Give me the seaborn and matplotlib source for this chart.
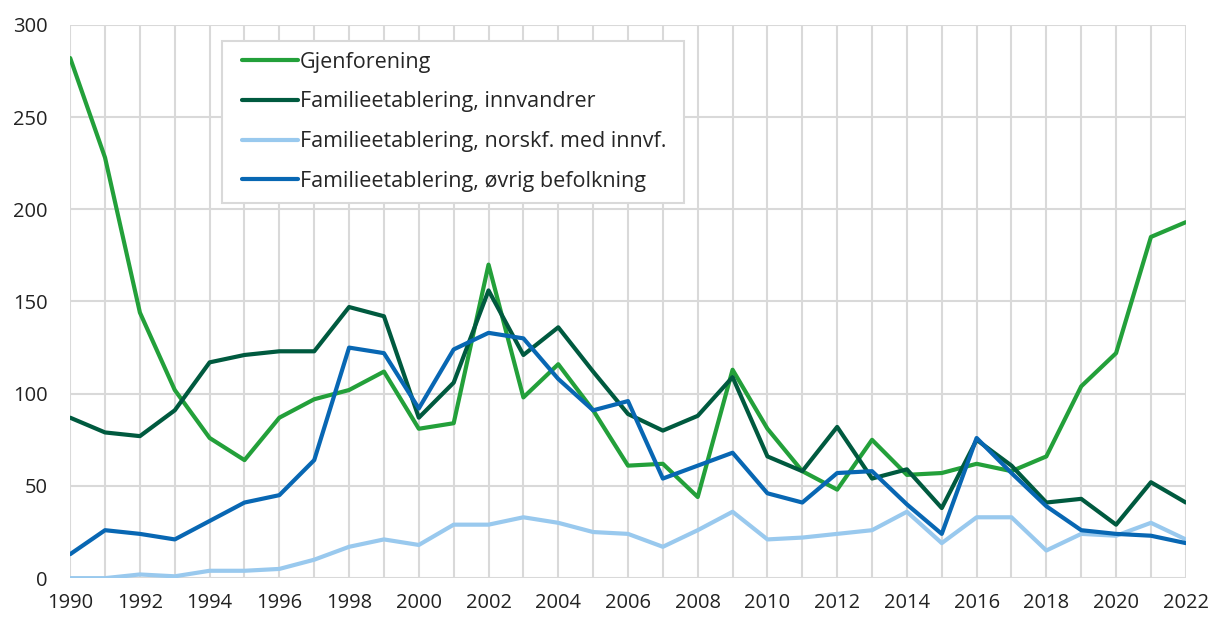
import pandas as pd
import matplotlib.pyplot as plt
import seaborn as sns
from matplotlib.patches import Rectangle
from matplotlib.transforms import IdentityTransform

# --- Data ---
years = list(range(1990, 2023))

gjenforening = [282, 228, 144, 102, 76, 64, 87, 97, 102, 112, 81, 84, 170, 98, 116, 91,
                61, 62, 44, 113, 81, 58, 48, 75, 56, 57, 62, 58, 66, 104, 122, 185, 193]
innvandrer = [87, 79, 77, 91, 117, 121, 123, 123, 147, 142, 87, 106, 156, 121, 136, 112,
              89, 80, 88, 109, 66, 58, 82, 54, 59, 38, 75, 61, 41, 43, 29, 52, 41]
norskf = [0, 0, 2, 1, 4, 4, 5, 10, 17, 21, 18, 29, 29, 33, 30, 25,
          24, 17, 26, 36, 21, 22, 24, 26, 36, 19, 33, 33, 15, 24, 23, 30, 21]
ovrig = [13, 26, 24, 21, 31, 41, 45, 64, 125, 122, 92, 124, 133, 130, 108, 91,
         96, 54, 61, 68, 46, 41, 57, 58, 40, 24, 76, 57, 39, 26, 24, 23, 19]

series_names = ["Gjenforening",
                "Familieetablering, innvandrer",
                "Familieetablering, norskf. med innvf.",
                "Familieetablering, øvrig befolkning"]
colors = ["#23a03a", "#005a3f", "#99c9ee", "#0867b3"]

df = pd.DataFrame({"year": years, series_names[0]: gjenforening,
                   series_names[1]: innvandrer, series_names[2]: norskf,
                   series_names[3]: ovrig})
long_df = df.melt(id_vars="year", var_name="serie", value_name="antall")

# --- Plot ---
sns.set_theme(style="white")
plt.rcParams['font.family'] = ['Open Sans', 'DejaVu Sans']

fig, ax = plt.subplots(figsize=(12.1, 6.21), dpi=100)
fig.subplots_adjust(left=0.058, right=0.980, top=0.960, bottom=0.069)

sns.lineplot(data=long_df, x="year", y="antall", hue="serie", hue_order=series_names,
             palette=colors, linewidth=3, ax=ax)

ax.set_xlim(1990, 2022)
ax.set_ylim(0, 300)
ax.set_xticks(range(1990, 2023, 2))
ax.set_xticks(range(1990, 2023), minor=True)
ax.set_yticks(range(0, 301, 50))
ax.grid(True, which="both", color="#d9d9d9", linewidth=1.5)
ax.set_axisbelow(True)
for s in ax.spines.values():
    s.set_visible(False)
ax.tick_params(axis="both", which="both", length=0, labelsize=14.5, colors="#222222")
ax.tick_params(axis="x", pad=11)
ax.tick_params(axis="y", pad=16)
ax.set_xlabel("")
ax.set_ylabel("")

# legend without its own frame; a wider box is drawn behind it
leg = ax.legend(loc="upper left", bbox_to_anchor=(0.144, 0.971), frameon=False,
                fontsize=15.5, handlelength=2.6, handletextpad=0.1,
                labelspacing=0.87, borderpad=0.5, borderaxespad=0)
leg.set_zorder(5)

fig.canvas.draw()
bb = leg.get_window_extent()
pad_left, pad_right = 9, 7
box = Rectangle((bb.x0 - pad_left, bb.y0), bb.width + pad_left + pad_right, bb.height,
                transform=IdentityTransform(), facecolor="white",
                edgecolor="#d9d9d9", linewidth=1.5, zorder=4.9)
ax.add_artist(box)

plt.savefig("out.png", dpi=100)
